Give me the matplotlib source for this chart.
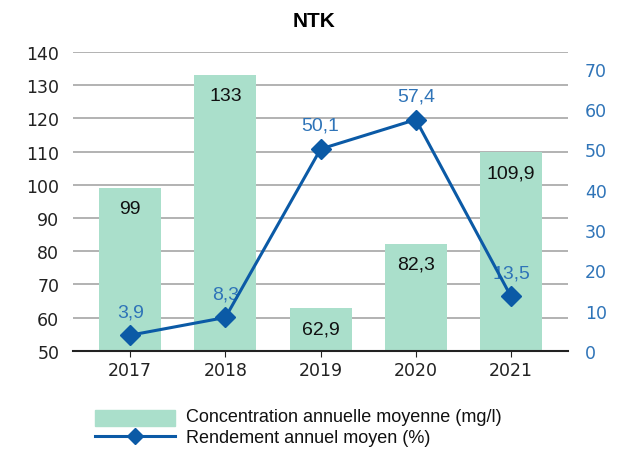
import matplotlib
matplotlib.use("Agg")
import matplotlib.pyplot as plt

years = ["2017", "2018", "2019", "2020", "2021"]
concentration = [99, 133, 62.9, 82.3, 109.9]
rendement = [3.9, 8.3, 50.1, 57.4, 13.5]
left_ticks = [50, 60, 70, 80, 90, 100, 110, 120, 130, 140]
right_ticks = [0, 10, 20, 30, 40, 50, 60, 70]

bar_color = "#aadfcb"
line_color = "#0b5aa6"
label_blue = "#2f74b8"
tick_font = "DejaVu Sans"
label_font = "Liberation Sans"


def fmt(v):
    # french decimal comma
    s = ("%g" % v)
    return s.replace(".", ",")


fig = plt.figure(figsize=(6.25, 4.6), dpi=100)
ax = fig.add_axes([0.117, 0.235, 0.792, 0.65])
x = list(range(len(years)))

ax.bar(x, [c - 50 for c in concentration], bottom=50, width=0.65,
       color=bar_color, zorder=2)
ax.set_ylim(50, 140)
ax.set_xlim(-0.6, 4.6)
ax.set_yticks(left_ticks)
ax.set_xticks(x)
ax.set_xticklabels(years)
ax.grid(axis="y", color="#a6a6a6", linewidth=1.2, zorder=0)
ax.set_axisbelow(True)
for s in ["top", "right", "left"]:
    ax.spines[s].set_visible(False)
ax.spines["bottom"].set_color("#222222")
ax.spines["bottom"].set_linewidth(1.5)
ax.tick_params(axis="y", length=0, labelsize=12.5, pad=10, labelcolor="#222222")
ax.tick_params(axis="x", length=4, labelsize=12.5, color="#222222", labelcolor="#222222")
for t in ax.get_xticklabels() + ax.get_yticklabels():
    t.set_family(tick_font)

for xi, c in zip(x, concentration):
    ax.annotate(fmt(c), (xi, c), xytext=(0, -15), textcoords="offset points",
                ha="center", va="center", fontsize=14, color="#111111",
                family=label_font, zorder=5)

ax2 = ax.twinx()
ax2.set_ylim(0, 74.2)
ax2.set_yticks(right_ticks)
ax2.plot(x, rendement, color=line_color, linewidth=2.2, marker="D",
         markersize=10, zorder=4)
for s in ["top", "right", "left", "bottom"]:
    ax2.spines[s].set_visible(False)
ax2.tick_params(axis="y", length=0, labelsize=12.5, pad=12, labelcolor=label_blue)
for t in ax2.get_yticklabels():
    t.set_family(tick_font)

for xi, r in zip(x, rendement):
    ax2.annotate(fmt(r), (xi, r), xytext=(0, 17), textcoords="offset points",
                 ha="center", va="center", fontsize=14, color=label_blue,
                 family=label_font)

fig.text(0.502, 0.954, "NTK", ha="center", va="center", fontsize=15,
         fontweight="bold", family=label_font)

# legend drawn by hand, in pixel coordinates of the figure
lax = fig.add_axes([0, 0, 1, 1], zorder=-1)
lax.set_xlim(0, 625)
lax.set_ylim(460, 0)
lax.axis("off")
lax.add_patch(plt.Rectangle((95, 411), 80, 16, color=bar_color))
lax.plot([95, 175], [437, 437], color=line_color, linewidth=2.2)
lax.plot([135], [437], marker="D", color=line_color, markersize=8)
lax.text(186, 418, "Concentration annuelle moyenne (mg/l)", va="center",
         fontsize=13, family=label_font, color="#111111")
lax.text(186, 439, "Rendement annuel moyen (%)", va="center",
         fontsize=13, family=label_font, color="#111111")

fig.savefig("out.png", dpi=100)
